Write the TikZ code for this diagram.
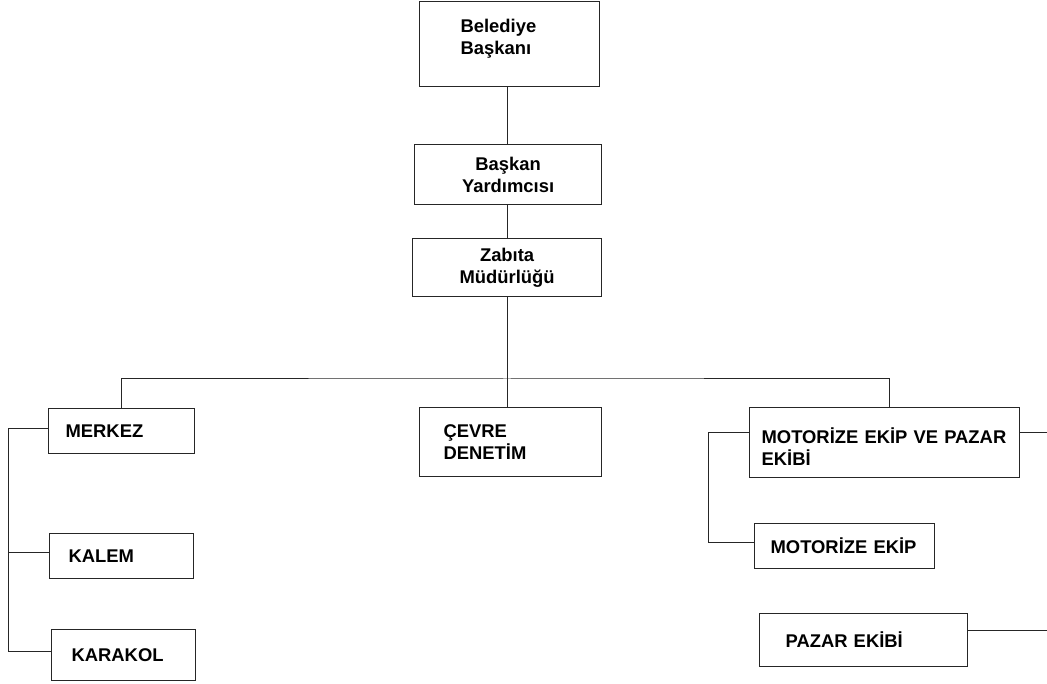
\documentclass[tikz,border=0pt]{standalone}
\usepackage{fontspec}
\setmainfont{Liberation Sans}
\usepackage{tikz}
\usetikzlibrary{
    positioning,
}
\tikzstyle{unit}=[draw=black!85,rectangle,line width=1.2pt,anchor=north west,inner ysep=0pt,align=left,font=\bfseries\fontsize{18.4}{22}\selectfont]
\tikzstyle{link}=[draw=black!85,line width=1pt]

\begin{document}
\begin{tikzpicture}[x=1pt,y=-1pt]
    \useasboundingbox (0,0) rectangle (1047,684);

    % Management
    \node[unit,minimum width=180,minimum height=85,text width=98,inner xsep=41,text depth=37pt] (bb) at (419,1) {Belediye\\Başkanı};
    \node[unit,align=center,minimum width=187,minimum height=60,text width=177,inner xsep=5] (by) at (414,144) {Başkan\\Yardımcısı};
    \node[unit,align=center,minimum width=189,minimum height=58,text width=179,inner xsep=5] (zm) at (412,238) {Zabıta\\Müdürlüğü};

    % Units
    \node[unit,minimum width=146,minimum height=45,text width=112,inner xsep=17] (mk) at (48,408) {MERKEZ};
    \node[unit,minimum width=144,minimum height=45,text width=106,inner xsep=19] (kl) at (49,533) {KALEM};
    \node[unit,minimum width=144,minimum height=51,text width=104,inner xsep=20] (kr) at (51,629) {KARAKOL};
    \node[unit,minimum width=182,minimum height=69,text width=134,inner xsep=24] (cd) at (419,407) {ÇEVRE\\DENETİM};
    \node[unit,minimum width=270,minimum height=70,text width=246,inner xsep=12,text height=24.5pt] (mp) at (749,407) {MOTORİZE EKİP VE PAZAR\\EKİBİ};
    \node[unit,minimum width=180,minimum height=45,text width=148,inner xsep=16] (me) at (754,523) {MOTORİZE EKİP};
    \node[unit,minimum width=208,minimum height=53,text width=156,inner xsep=26] (pe) at (759,613) {PAZAR EKİBİ};

    \coordinate (bus) at (507,379);
    \coordinate (lbus) at (8,0);
    \coordinate (rbus) at (708,0);
    \coordinate (edge) at (1047,0);

    \draw[link] (bb.south -| bus) -- (by.north -| bus);
    \draw[link] (by.south -| bus) -- (zm.north -| bus);
    \draw[link] (zm.south -| bus) -- (cd.north -| bus);
    \draw[link] (mk.north) |- (bus) -| ([xshift=5]mp.north);

    \draw[link] ([yshift=2.5]mk.west) -- ([yshift=2.5]mk.west -| lbus) |- ([yshift=3.5]kr.west);
    \draw[link] ([yshift=3.5]kl.west) -- ([yshift=3.5]kl.west -| lbus);

    \draw[link] ([yshift=10.5]mp.west) -- ([yshift=10.5]mp.west -| rbus) |- ([yshift=3.5]me.west);
    \draw[link] ([yshift=10.5]mp.east) -- ([yshift=10.5]mp.east -| edge);
    \draw[link] ([yshift=9.5]pe.east) -- ([yshift=9.5]pe.east -| edge);
\end{tikzpicture}
\end{document}
